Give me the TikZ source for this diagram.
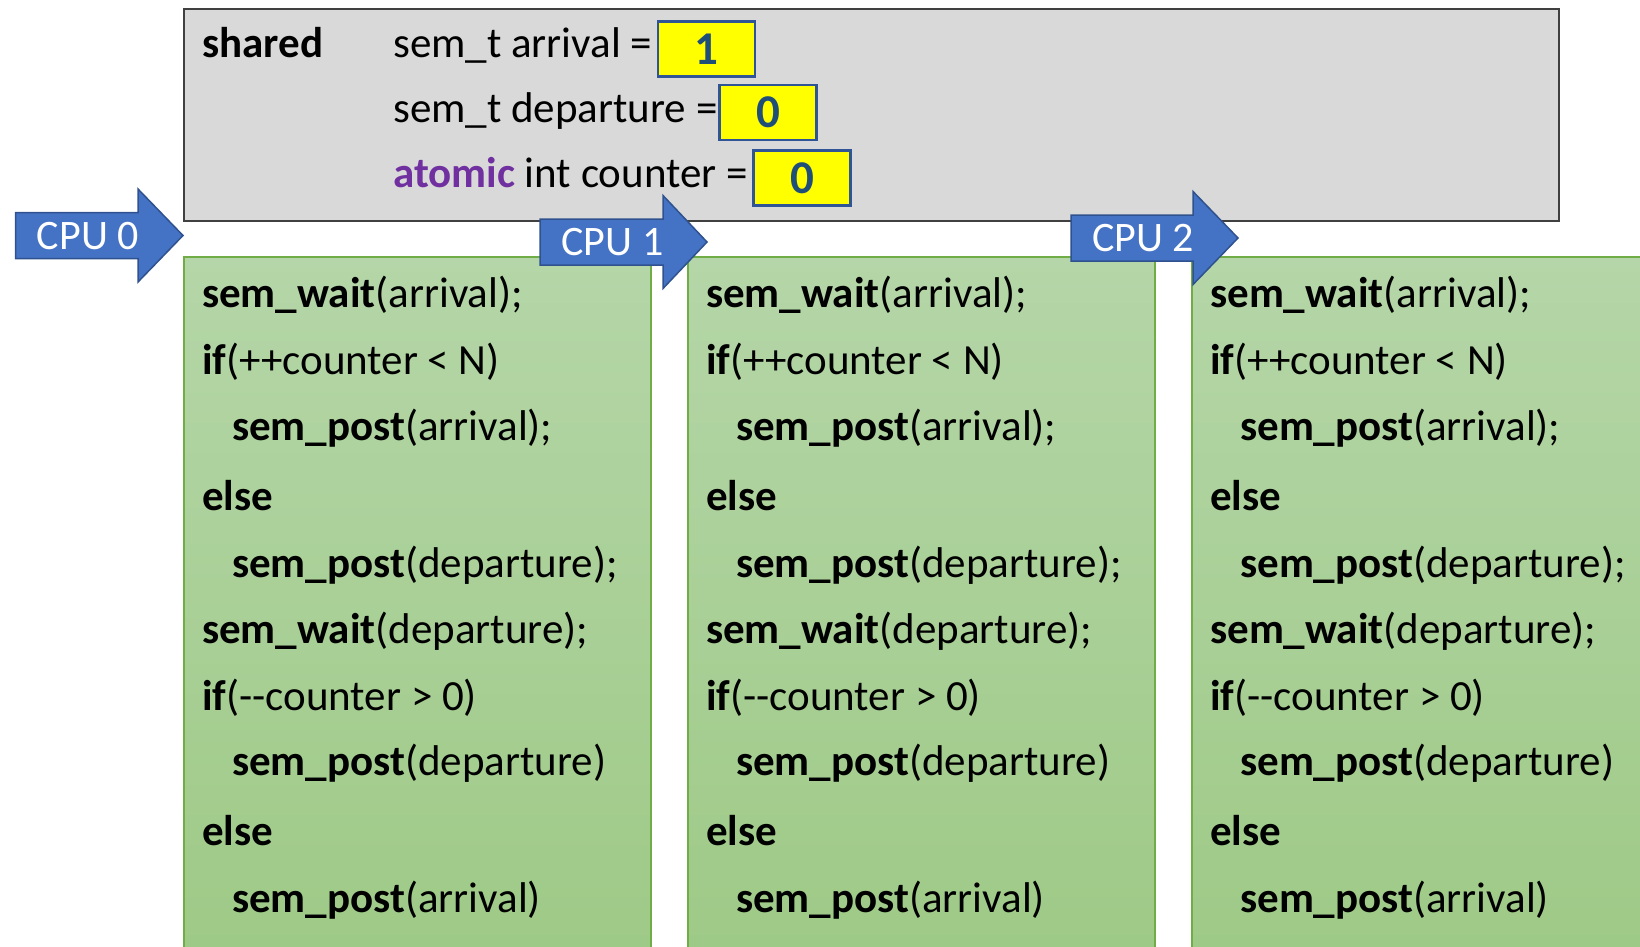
\documentclass[tikz,border=0pt]{standalone}
\usepackage{fontspec}
\setmainfont{Carlito}
\definecolor{panelgray}{HTML}{D9D9D9}
\definecolor{panelline}{HTML}{404040}
\definecolor{valfill}{HTML}{FFFF00}
\definecolor{valline}{HTML}{2F5597}
\definecolor{valtext}{HTML}{1F4E79}
\definecolor{cpufill}{HTML}{4472C4}
\definecolor{cpuline}{HTML}{2F528F}
\definecolor{codetop}{HTML}{B5D6A8}
\definecolor{codebot}{HTML}{9DC985}
\definecolor{codeline}{HTML}{70AD47}
\definecolor{atomicpurple}{HTML}{7030A0}
\begin{document}
\begin{tikzpicture}[x=1pt,y=-1pt,
  txt/.style={anchor=base west, inner sep=0pt, font=\fontsize{43}{50}\selectfont},
  panel/.style={draw=panelline, line width=1.5pt, fill=panelgray},
  valbox/.style={draw=valline, line width=2.5pt, fill=valfill, minimum width=97pt,
    minimum height=55pt, inner sep=0pt, text=valtext, font=\fontsize{47}{50}\selectfont\bfseries},
  cpuarrow/.style={draw=cpuline, line width=1.5pt, fill=cpufill, line join=miter},
  cpulabel/.style={anchor=base, inner sep=0pt, text=white, font=\fontsize{42}{50}\selectfont},
  codebox/.style={draw=codeline, line width=1.5pt, top color=codetop, bottom color=codebot}]
\useasboundingbox (0,0) rectangle (1640,946);
\clip (0,0) rectangle (1640,946);

% shared variables panel
\node[panel, anchor=north west, minimum width=1375pt, minimum height=212pt, inner sep=0pt]
  (shared) at (183,8) {};
\node[txt] (sharedlbl) at (202,57) {\bfseries shared};
\node[txt] (arrdecl) at (393,57) {sem\_t arrival =};
\node[txt] (depdecl) at (393,122) {sem\_t departure =};
\node[txt] (cntdecl) at (393,187) {\textcolor{atomicpurple}{\bfseries atomic} int counter =};
\node[valbox] (arrval) at (706.5,49) {1};
\node[valbox] (depval) at (768,112.5) {0};
\node[valbox] (cntval) at (802,178) {0};

% one code column per CPU
\foreach \n/\bx in {0/184,1/688,2/1192}{
  \path[codebox] (\bx,257) rectangle ({\bx+467},980);
  \pgfmathsetmacro{\tx}{\bx+18}
  \pgfmathsetmacro{\ix}{\bx+48}
  \node[txt] (c\n-1) at (\tx,307) {\textbf{sem\_wait}(arrival);};
  \node[txt] (c\n-2) at (\tx,374) {\textbf{if}(++counter < N)};
  \node[txt] (c\n-3) at (\ix,440) {\textbf{sem\_post}(arrival);};
  \node[txt] (c\n-4) at (\tx,510) {\textbf{else}};
  \node[txt] (c\n-5) at (\ix,577) {\textbf{sem\_post}(departure);};
  \node[txt] (c\n-6) at (\tx,643) {\textbf{sem\_wait}(departure);};
  \node[txt] (c\n-7) at (\tx,710) {\textbf{if}(-{}-counter > 0)};
  \node[txt] (c\n-8) at (\ix,775) {\textbf{sem\_post}(departure)};
  \node[txt] (c\n-9) at (\tx,845) {\textbf{else}};
  \node[txt] (c\n-10) at (\ix,912) {\textbf{sem\_post}(arrival)};
}

% CPU block arrows
\foreach \n/\xa/\xb/\xt/\yc in {0/15.7/138/183/235.5, 1/540/663/707/242, 2/1071/1193/1238/238}{
  \draw[cpuarrow] (\xa,{\yc-23}) -- (\xb,{\yc-23}) -- (\xb,{\yc-46.5}) -- (\xt,\yc)
    -- (\xb,{\yc+46.5}) -- (\xb,{\yc+23}) -- (\xa,{\yc+23}) -- cycle;
  \node[cpulabel] (cpu\n) at ({(\xa+\xb)/2+11},{\yc+13.5}) {CPU \n};
}
\end{tikzpicture}
\end{document}
